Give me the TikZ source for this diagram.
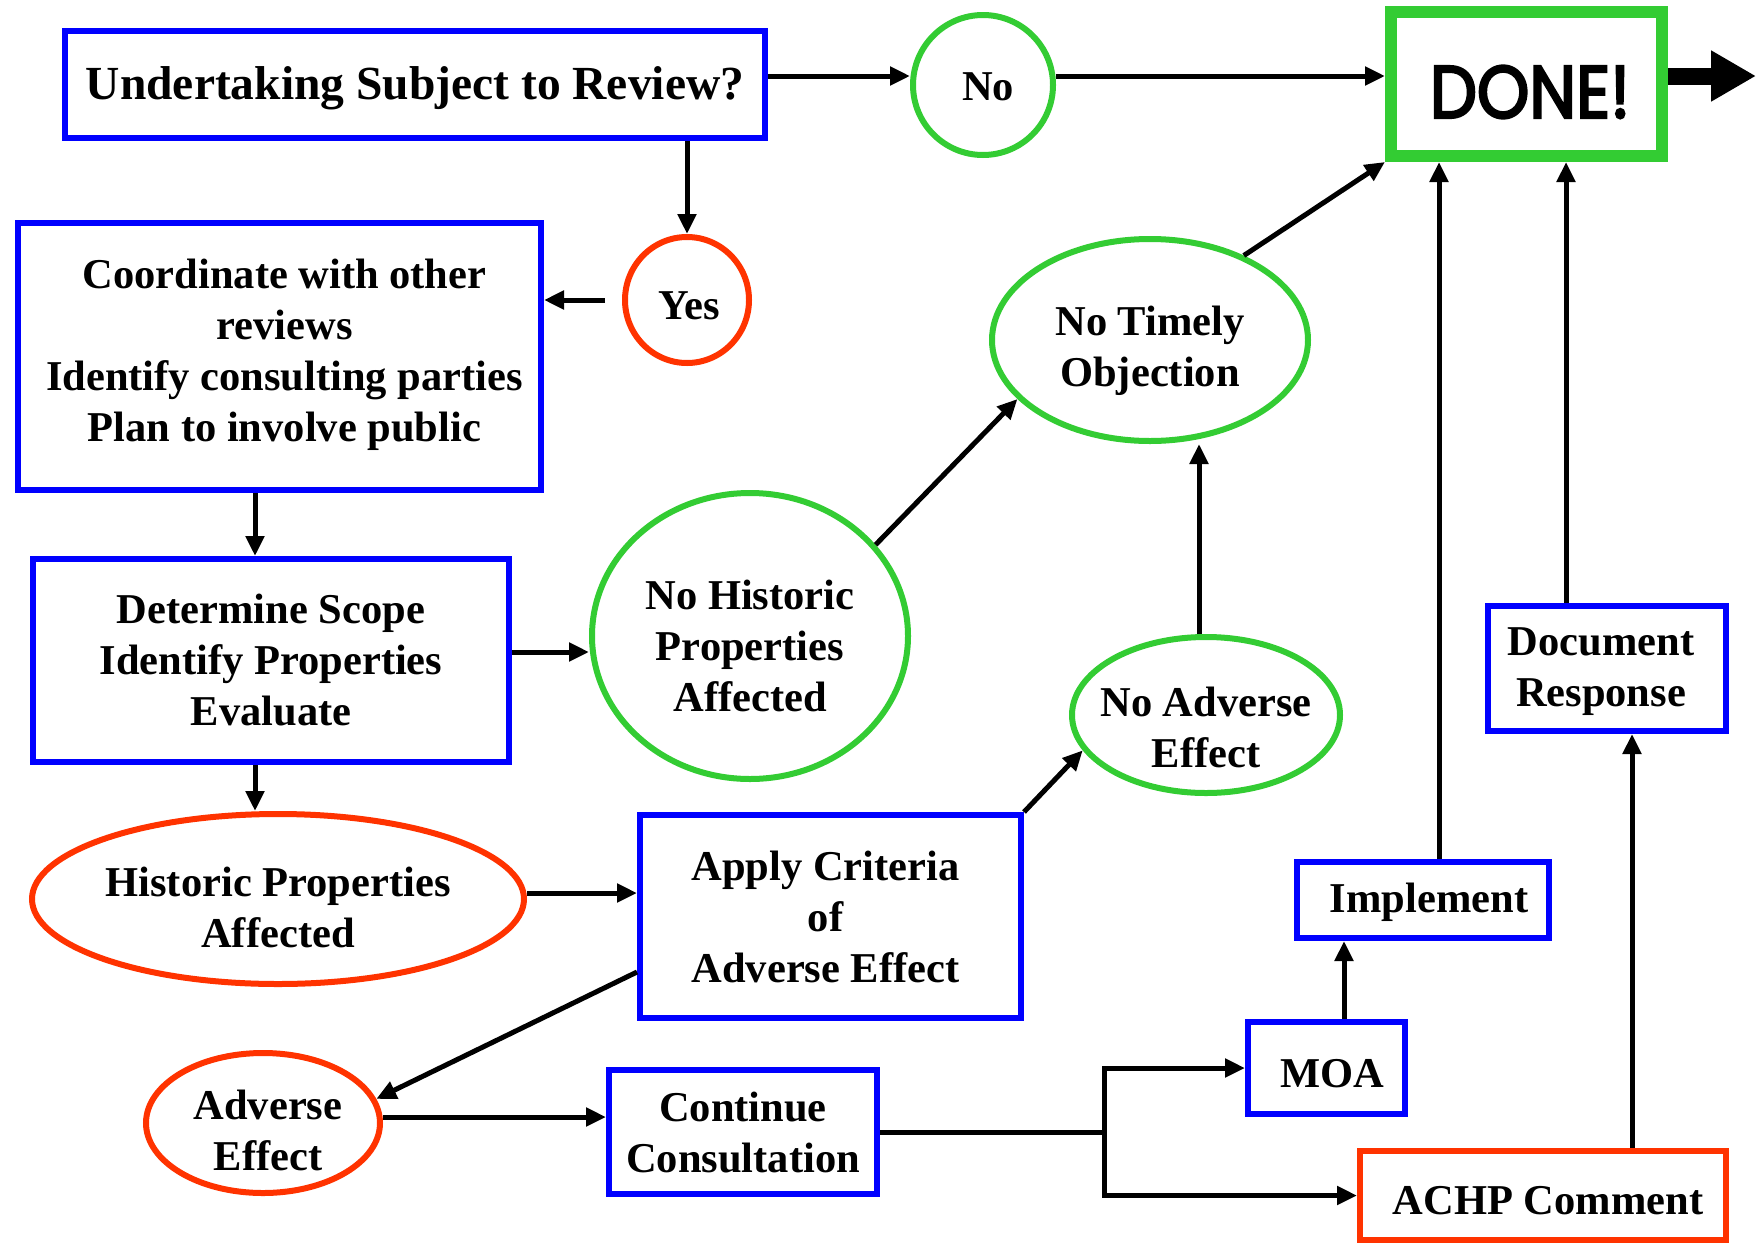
\documentclass[tikz,border=0pt]{standalone}
\usepackage{fontspec}
\usepackage{graphicx}
\setmainfont{Liberation Serif}
\newfontfamily\donefont[FakeBold=3.5]{Poppins}
\usetikzlibrary{arrows.meta,shapes.geometric}
\definecolor{boxblue}{RGB}{0,0,255}
\definecolor{okgreen}{RGB}{51,204,51}
\definecolor{alertred}{RGB}{255,51,0}
\begin{document}
\begin{tikzpicture}[x=1pt,y=-1pt,
  txt/.style={font=\bfseries\fontsize{42.5}{51}\selectfont, align=center, inner sep=0pt},
  box/.style={draw=#1, line width=6pt, rectangle, inner sep=0pt},
  oval/.style={draw=#1, line width=6pt, ellipse, inner sep=0pt},
  arr/.style={line width=5pt, -{Triangle[length=20pt,width=18pt]}},
  link/.style={line width=5pt}]

\fill[white] (0,0) rectangle (1756,1245);
\useasboundingbox (0,0) rectangle (1756,1245);

% helper rows and columns for the connectors
\coordinate (rowA) at (0,76);
\coordinate (colC) at (255,0);
\coordinate (rowF) at (0,652);
\coordinate (colJ) at (1199,0);
\coordinate (rowL) at (0,893);
\coordinate (rowM) at (0,972);
\coordinate (rowN) at (0,1117);
\coordinate (jx) at (1104,0);
\coordinate (colP) at (1344,0);
\coordinate (colQ) at (1439,0);
\coordinate (colR) at (1632,0);
\coordinate (colS) at (1566,0);
\coordinate (exit) at (1756,76);

% boxes
\node[box=boxblue, minimum width=700pt, minimum height=107pt] (und) at (415,84.5) {};
\node[txt, font=\bfseries\fontsize{47.5}{57}\selectfont] (undT) at (415,88) {Undertaking Subject to Review?};
\node[box=okgreen, line width=12pt, minimum width=271pt, minimum height=144pt] (done) at (1526.5,84) {};
\node[font=\donefont\fontsize{74}{80}\selectfont, inner sep=0pt] (doneT) at (1530,92) {\scalebox{0.9}[1]{DONE!}};
\node[box=boxblue, minimum width=523pt, minimum height=267pt] (coord) at (279.5,356.5) {};
\node[txt] (coordT) at (284.5,354.5) {Coordinate with other\\reviews\\Identify consulting parties\\Plan to involve public};
\node[box=boxblue, minimum width=476pt, minimum height=203pt] (scope) at (271,660.5) {};
\node[txt] (scopeT) at (271,660.5) {Determine Scope\\Identify Properties\\Evaluate};
\node[box=boxblue, minimum width=238pt, minimum height=125pt] (doc) at (1607,668.5) {};
\node[txt] (docT) at (1601,671.5) {Document\\Response};
\node[box=boxblue, minimum width=381pt, minimum height=203pt] (apply) at (830.5,916.5) {};
\node[txt] (applyT) at (825.5,916.5) {Apply Criteria\\of\\Adverse Effect};
\node[box=boxblue, minimum width=252pt, minimum height=76pt] (impl) at (1423,900) {};
\node[txt] (implT) at (1429,902) {Implement};
\node[box=boxblue, minimum width=268pt, minimum height=124pt] (cont) at (743,1132) {};
\node[txt] (contT) at (743,1132) {Continue\\Consultation};
\node[box=boxblue, minimum width=157pt, minimum height=92pt] (moa) at (1326.5,1068) {};
\node[txt] (moaT) at (1332.5,1074) {MOA};
\node[box=alertred, minimum width=366pt, minimum height=89pt] (achp) at (1543,1195.5) {};
\node[txt] (achpT) at (1548,1201) {ACHP Comment};

% ovals
\node[oval=okgreen, minimum width=140pt, minimum height=140pt] (no) at (983,85) {};
\node[txt] (noT) at (988,87) {No};
\node[oval=alertred, minimum width=124pt, minimum height=126pt] (yes) at (687,300) {};
\node[txt] (yesT) at (689,306) {Yes};
\node[oval=okgreen, minimum width=316pt, minimum height=286pt] (nohist) at (750,636) {};
\node[txt] (nohistT) at (750,645.5) {No Historic\\Properties\\Affected};
\node[oval=okgreen, minimum width=316pt, minimum height=202pt] (notimely) at (1150,340) {};
\node[txt] (notimelyT) at (1150,350.5) {No Timely\\Objection};
\node[oval=okgreen, minimum width=268pt, minimum height=156pt] (noadv) at (1206,715) {};
\node[txt] (noadvT) at (1206,727.5) {No Adverse\\Effect};
\node[oval=alertred, minimum width=492pt, minimum height=170pt] (hist) at (278,899) {};
\node[txt] (histT) at (278,907) {Historic Properties\\Affected};
\node[oval=alertred, minimum width=234pt, minimum height=140pt] (adv) at (263,1123) {};
\node[txt] (advT) at (268,1130) {Adverse\\Effect};

% connectors
\draw[arr] (und.east |- rowA) -- (no.west |- rowA);
\draw[arr] (no.east |- rowA) -- (done.west |- rowA);
\draw[arr] (und.south -| yes.north) -- (yes.north);
\draw[arr] ([xshift=-17pt]yes.west) -- (coord.east |- yes.west);
\draw[arr] (coord.south -| colC) -- (scope.north -| colC);
\draw[arr] (scope.east |- rowF) -- (nohist.west |- rowF);
\draw[arr] (scope.south -| colC) -- (hist.north -| colC);
\draw[arr] (nohist.36) -- (notimely.204);
\draw[arr] (notimely.42) -- (done.south west);
\draw[arr] (noadv.north -| colJ) -- (notimely.south -| colJ);
\draw[arr] (apply.north east) -- (noadv.196);
\draw[arr] (hist.east |- rowL) -- (apply.west |- rowL);
\draw[arr] (apply.west |- rowM) -- (adv.12);
\draw[arr] (adv.east |- rowN) -- (cont.west |- rowN);
\draw[link] (cont.east) -- (cont.east -| jx);
\draw[arr] (cont.east -| jx) |- (moa.west);
\draw[arr] (cont.east -| jx) |- (achp.west);
\draw[arr] (moa.north -| colP) -- (impl.south -| colP);
\draw[arr] (impl.north -| colQ) -- (done.south -| colQ);
\draw[arr] (achp.north -| colR) -- (doc.south -| colR);
\draw[arr] (doc.north -| colS) -- (done.south -| colS);
\draw[line width=17pt, -{Triangle[length=45pt,width=48pt]}] (done.east |- rowA) -- (exit);
\end{tikzpicture}
\end{document}
